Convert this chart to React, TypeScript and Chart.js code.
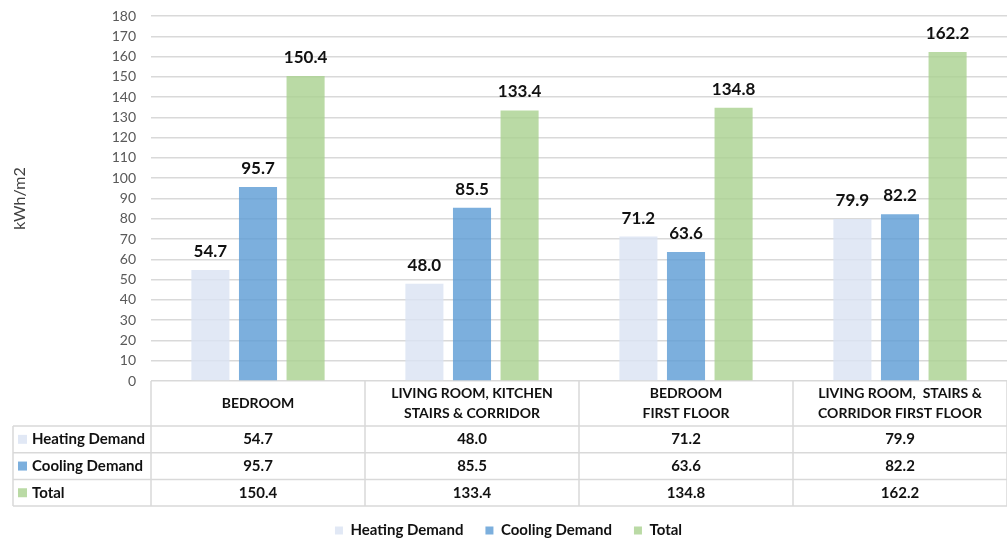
import React, { useEffect, useRef } from 'react';
import { Chart, registerables } from 'chart.js';

Chart.register(...registerables);

// Room categories (header lines of the data table)
const categories: string[][] = [
  ['BEDROOM'],
  ['LIVING ROOM, KITCHEN', 'STAIRS & CORRIDOR'],
  ['BEDROOM', 'FIRST FLOOR'],
  ['LIVING ROOM,  STAIRS &', 'CORRIDOR FIRST FLOOR'],
];

// Energy demand per room, kWh/m2
const heatingDemand = [54.7, 48.0, 71.2, 79.9];
const coolingDemand = [95.7, 85.5, 63.6, 82.2];
const totalDemand = [150.4, 133.4, 134.8, 162.2];

const seriesNames = ['Heating Demand', 'Cooling Demand', 'Total'];
const seriesColors = ['rgba(218,227,243,0.82)', 'rgba(91,155,213,0.8)', 'rgba(169,209,142,0.8)'];

const yMin = 0;
const yMax = 180;
const yStep = 10;
const yTitle = 'kWh/m2';

const FONT = 'Lato, "Open Sans", sans-serif';
const GRID = '#d9d9d9';

// Bar value labels drawn above each bar
const valueLabels = {
  id: 'valueLabels',
  afterDatasetsDraw(chart: any) {
    const ctx = chart.ctx;
    ctx.save();
    ctx.font = `bold 17px ${FONT}`;
    ctx.fillStyle = '#111';
    ctx.textAlign = 'center';
    ctx.textBaseline = 'bottom';
    chart.data.datasets.forEach((ds: any, di: number) => {
      const meta = chart.getDatasetMeta(di);
      meta.data.forEach((bar: any, i: number) => {
        ctx.fillText(Number(ds.data[i]).toFixed(1), bar.x, bar.y - 10);
      });
    });
    ctx.restore();
  },
};

// Data table under the plot area
const dataTable = {
  id: 'dataTable',
  afterDraw(chart: any) {
    const ctx = chart.ctx;
    const area = chart.chartArea;
    const n = categories.length;
    const catW = (area.right - area.left) / n;
    const top = area.bottom;
    const headerH = 45;
    const rowH = 26.7;
    const tableLeft = 13;
    const rows = [heatingDemand, coolingDemand, totalDemand];
    const bottom = top + headerH + rowH * rows.length;

    ctx.save();
    ctx.strokeStyle = GRID;
    ctx.lineWidth = 1.5;
    ctx.beginPath();
    // vertical lines
    for (let i = 0; i <= n; i++) {
      const x = area.left + i * catW;
      ctx.moveTo(x, top);
      ctx.lineTo(x, bottom);
    }
    ctx.moveTo(tableLeft, top + headerH);
    ctx.lineTo(tableLeft, bottom);
    // horizontal lines
    for (let r = 0; r <= rows.length; r++) {
      const y = top + headerH + r * rowH;
      ctx.moveTo(tableLeft, y);
      ctx.lineTo(area.right, y);
    }
    ctx.stroke();

    // header labels
    ctx.fillStyle = '#111';
    ctx.textAlign = 'center';
    ctx.textBaseline = 'middle';
    ctx.font = `bold 14px ${FONT}`;
    categories.forEach((lines, i) => {
      const cx = chart.scales.x.getPixelForValue(i);
      const lh = 20;
      const y0 = top + headerH / 2 - ((lines.length - 1) * lh) / 2;
      lines.forEach((t, k) => ctx.fillText(t, cx, y0 + k * lh));
    });

    // rows
    rows.forEach((vals, r) => {
      const cy = top + headerH + r * rowH + rowH / 2;
      ctx.fillStyle = seriesColors[r];
      ctx.fillRect(18, cy - 4.5, 9, 9);
      ctx.fillStyle = '#111';
      ctx.textAlign = 'left';
      ctx.font = `bold 15px ${FONT}`;
      ctx.fillText(seriesNames[r], 32, cy);
      ctx.textAlign = 'center';
      vals.forEach((v, i) => {
        const cx = chart.scales.x.getPixelForValue(i);
        ctx.fillText(v.toFixed(1), cx, cy);
      });
    });
    ctx.restore();
  },
};

export default function App() {
  const canvasRef = useRef<HTMLCanvasElement | null>(null);

  useEffect(() => {
    const canvas = canvasRef.current;
    if (!canvas) return;
    const seriesData = [heatingDemand, coolingDemand, totalDemand];
    const chart = new Chart(canvas, {
      type: 'bar',
      data: {
        labels: categories.map((c) => c.join(' ')),
        datasets: seriesData.map((d, i) => ({
          label: seriesNames[i],
          data: d,
          backgroundColor: seriesColors[i],
          borderWidth: 0,
          categoryPercentage: 0.667,
          barPercentage: 0.8,
        })),
      },
      options: {
        responsive: false,
        animation: false,
        layout: { padding: { top: 16, right: 0, bottom: 0, left: 10 } },
        plugins: {
          tooltip: { enabled: false },
          legend: {
            position: 'bottom',
            maxHeight: 40,
            labels: {
              boxWidth: 8,
              boxHeight: 8,
              padding: 22,
              color: '#111',
              font: { family: FONT, size: 15, weight: 'bold', lineHeight: 1 },
            },
          },
        },
        scales: {
          x: {
            type: 'category',
            ticks: { display: false },
            grid: { display: false },
            border: { display: false },
            afterFit: (s: any) => {
              s.height = 120;
            },
          },
          y: {
            min: yMin,
            max: yMax,
            ticks: {
              stepSize: yStep,
              padding: 3,
              color: '#595959',
              font: { family: FONT, size: 14 },
            },
            grid: {
              color: GRID,
              lineWidth: 1.5,
              drawTicks: true,
              tickLength: 12,
              tickColor: 'rgba(0,0,0,0)',
            },
            border: { display: false },
            title: {
              display: true,
              text: yTitle,
              color: '#404040',
              padding: { top: 0, bottom: 0 },
              font: { family: FONT, size: 16 },
            },
            afterFit: (s: any) => {
              s.width = 141;
            },
          },
        },
      },
      plugins: [valueLabels, dataTable],
    });
    return () => chart.destroy();
  }, []);

  return (
    <div style={{ position: 'fixed', left: 0, top: 0, width: 1007, height: 541, background: '#fff' }}>
      <canvas ref={canvasRef} width={1007} height={541} />
    </div>
  );
}
